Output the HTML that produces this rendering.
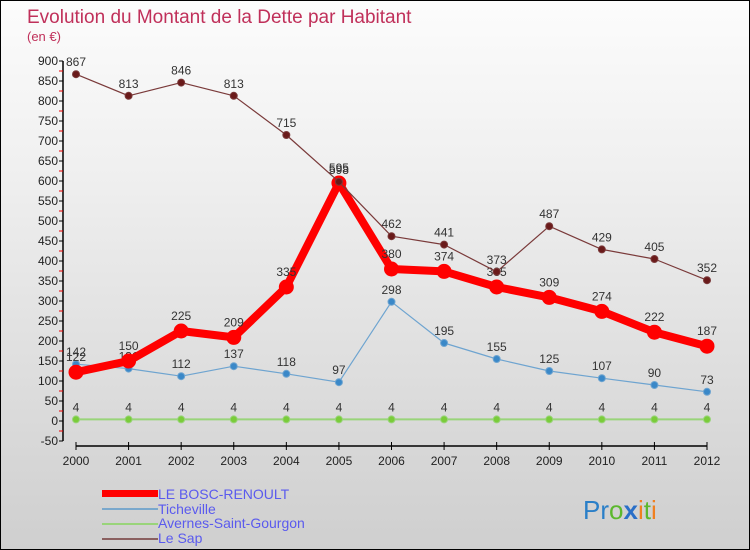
<!DOCTYPE html>
<html><head><meta charset="utf-8"><style>
body{margin:0}
#c{width:750px;height:550px;position:relative;background:linear-gradient(#fcfcfc,#f0f0f0 30%,#d8d8d8 80%,#cfcfcf);border:1px solid #000;box-sizing:border-box;overflow:hidden;font-family:"Liberation Sans",sans-serif}
</style></head><body>
<div id="c">
<svg id="s" width="750" height="550">
<text x="26" y="22" font-size="19" fill="#c0305a">Evolution du Montant de la Dette par Habitant</text>
<text x="26" y="40" font-size="13" fill="#c0305a">(en €)</text>
<g id="g"></g>
<g font-size="14" fill="#5a5aee">
<rect x="101" y="489" width="56" height="7" fill="#f00"/>
<text x="157" y="498">LE BOSC-RENOULT</text>
<rect x="101" y="507" width="56" height="2" fill="#7aa8cc"/>
<text x="157" y="513">Ticheville</text>
<rect x="101" y="522" width="56" height="2" fill="#99d47a"/>
<text x="157" y="527">Avernes-Saint-Gourgon</text>
<rect x="101" y="537" width="56" height="2" fill="#8a6060"/>
<text x="157" y="542">Le Sap</text>
</g>
<text x="582" y="518" font-size="26"><tspan fill="#2a7fc8">Pr</tspan><tspan fill="#5cb82e">o</tspan><tspan fill="#2a6fc8" font-weight="bold">x</tspan><tspan fill="#f08020">i</tspan><tspan fill="#5cb82e">t</tspan><tspan fill="#f08020">i</tspan></text>
</svg></div>
<script>
const years=[2000,2001,2002,2003,2004,2005,2006,2007,2008,2009,2010,2011,2012];
const bosc=[122,150,225,209,335,595,380,374,335,309,274,222,187];
const tich=[142,131,112,137,118,97,298,195,155,125,107,90,73];
const aver=[4,4,4,4,4,4,4,4,4,4,4,4,4];
const sap=[867,813,846,813,715,598,462,441,373,487,429,405,352];
const yTicks=[900,850,800,750,700,650,600,550,500,450,400,350,300,250,200,150,100,50,0,-50];
const NS="http://www.w3.org/2000/svg",g=document.getElementById('g');
const X=i=>75+i*(706-75)/(years.length-1);
const Y=v=>420-v*0.4;
function el(t,a,p){const e=document.createElementNS(NS,t);for(const k in a)e.setAttribute(k,a[k]);(p||g).appendChild(e);return e;}
let ax=el('line',{x1:62,y1:Y(900),x2:62,y2:Y(-50),stroke:'#000','stroke-width':1.5});


yTicks.forEach(v=>{
 let t=el('line',{x1:58,x2:62,y1:Y(v),y2:Y(v),stroke:'#000'});
 
 
 let m=el('line',{x1:58,x2:62,y1:Y(v-25),y2:Y(v-25),stroke:'#e00'});
 if(v===-50)m.remove();
 
 
 let l=el('text',{x:57,y:Y(v)+4,'font-size':12,'text-anchor':'end',fill:'#222'});l.textContent=v;
 
 
});
let xa=el('line',{x1:75,x2:706,y1:445,y2:445,stroke:'#000','stroke-width':1.5});


years.forEach((y,i)=>{
 let t=el('line',{x1:X(i),x2:X(i),y1:441,y2:449,stroke:'#000'});
 
 
 let l=el('text',{x:X(i),y:464,'font-size':12,'text-anchor':'middle',fill:'#222'});l.textContent=y;
 
 
});
function series(d,col,w,r,name,dotcol){
 let p=el('polyline',{points:d.map((v,i)=>X(i)+','+Y(v)).join(' '),fill:'none',stroke:col,'stroke-width':w,'stroke-linejoin':'round'});
 
 
 d.forEach((v,i)=>{
  let c=el('circle',{cx:X(i),cy:Y(v),r:r,fill:dotcol,stroke:col,'stroke-width':1});
  
  
  let l=el('text',{x:X(i),y:Y(v)-8-(r>4?3:0),'font-size':12,'text-anchor':'middle',fill:'#333'});l.textContent=v;
  
  
 });
}
series(aver,'#99d47a',2,3.5,'avernes','#7acc3a');
series(tich,'#6ea4d0',1.2,3.5,'ticheville','#3a88c8');
series(bosc,'#f00',8,7,'bosc-renoult','#f00');
series(sap,'#7a3a3a',1.2,3.5,'le-sap','#6a1a1a');
</script>
</body></html>
